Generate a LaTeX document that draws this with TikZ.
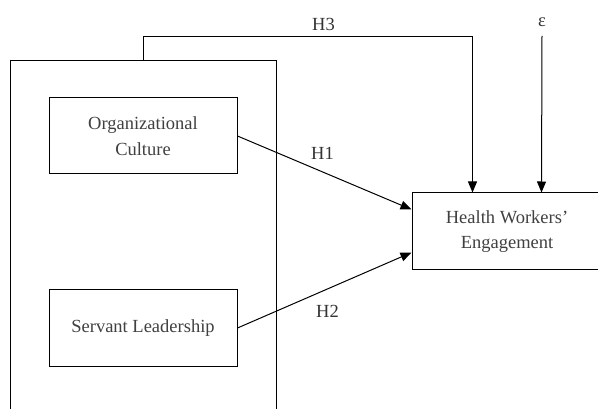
\documentclass[tikz,border=0pt]{standalone}
\usepackage{fontspec}
\setmainfont{Liberation Serif}
\usetikzlibrary{arrows.meta,calc}
\tikzset{
  box/.style={draw, line width=1pt, inner sep=0pt, align=center, text=black!75,
    font=\fontsize{18.5}{25.5}\selectfont},
  lbl/.style={inner sep=0pt, text=black!80, font=\fontsize{18.5}{22}\selectfont},
  arr/.style={line width=1pt, -{Triangle[length=11pt,width=9pt]}},
  conn/.style={line width=1pt}
}
\begin{document}
\begin{tikzpicture}[x=1pt,y=1pt]
\useasboundingbox (0,0) rectangle (598,-409);
\clip (0,0) rectangle (598,-409);
% outer group box (open at bottom beyond the page)
\node[draw, line width=1pt, inner sep=0pt, minimum width=266pt, minimum height=380pt, anchor=north west] (grp) at (10,-60) {};
% inner boxes
\node[box, minimum width=188pt, minimum height=76pt] (oc) at (143,-136) {Organizational\\Culture};
\node[box, minimum width=188pt, minimum height=76pt] (sl) at (143,-328) {Servant Leadership};
\node[box, minimum width=190pt, minimum height=77pt] (hw) at (507,-231.5) {Health Workers’\\Engagement};
% labels
\node[lbl, anchor=base west] (h3) at (312,-31) {H3};
\node[lbl, anchor=base west] (h1) at (311,-160) {H1};
\node[lbl, anchor=base west] (h2) at (316,-318) {H2};
\node[lbl, anchor=base] (eps) at (542,-27) {ε};
% connectors
\coordinate (h3top) at ($(grp.north)+(0,23)$);
\coordinate (h3end) at ($(hw.north west)+(61,0)$);
\coordinate (epsend) at ($(hw.north west)+(130,0)$);
\draw[arr] (grp.north) -- (h3top) -| (h3end);
\draw[arr] (eps.south |- 0,-36) -- (epsend);
\draw[arr] (oc.east) -- ($(hw.north west)+(0,-17)$);
\draw[arr] (sl.east) -- ($(hw.south west)+(0,18)$);
\end{tikzpicture}
\end{document}
